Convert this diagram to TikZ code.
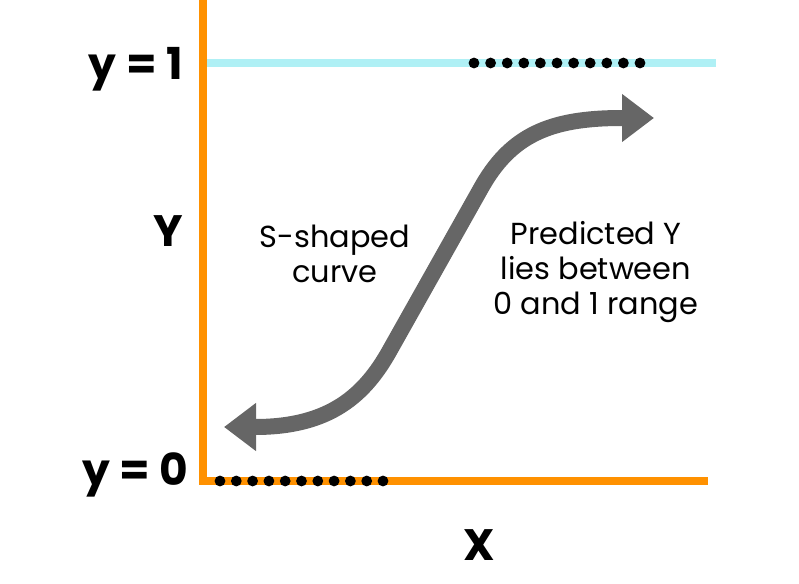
\documentclass[tikz,border=0pt]{standalone}
\usepackage{fontspec}
\setmainfont{Poppins}
\usetikzlibrary{arrows.meta}
\definecolor{axisorange}{RGB}{255,145,0}
\definecolor{levelcyan}{RGB}{175,240,245}
\definecolor{curvegray}{RGB}{102,102,102}

\begin{document}
\begin{tikzpicture}[x=0.5pt,y=-0.5pt,
  axisline/.style={draw=axisorange,line width=4pt},
  levelline/.style={draw=levelcyan,line width=4pt},
  dotmark/.style={fill=black},
  sline/.style={draw=curvegray,line width=8pt,
    {Triangle[length=16pt,width=23pt]}-{Triangle[length=16pt,width=23pt]}},
  axislabel/.style={font=\fontsize{22}{26}\selectfont\bfseries,inner sep=0pt},
  notelabel/.style={font=\fontsize{15.2}{17.5}\selectfont,align=center,inner sep=0pt}]
\useasboundingbox (0,0) rectangle (799,584);

% axes and the level y = 1
\coordinate (ytop) at (203,0);
\coordinate (origin) at (203,481);
\coordinate (xend) at (708,481);
\coordinate (oneleft) at (207,63);
\coordinate (oneright) at (716,63);
\draw[levelline] (oneleft) -- (oneright);
\draw[axisline] (ytop) -- (origin) -- (xend);

% dotted runs on the two levels
\foreach \i in {0,...,10}{
  \fill[dotmark] (474+16.6*\i,63) circle[radius=2.7pt];
  \fill[dotmark] (220+16.3*\i,481) circle[radius=2.7pt];
}

% the S-shaped curve
\coordinate (lowtip) at (224,427);
\coordinate (hightip) at (654,118);
\draw[sline] (lowtip) -- (255,427) .. controls (330,427) and (365,395) .. (390,350)
  -- (480,190) .. controls (510,135) and (550,118) .. (622,118) -- (hightip);

% labels
\node[axislabel,anchor=base east] (yone) at (183,79) {y = 1};
\node[axislabel,anchor=base east] (yzero) at (189,485) {y = 0};
\node[axislabel,anchor=base] (ylab) at (168,246) {Y};
\node[axislabel,anchor=base] (xlab) at (479,560) {X};
\node[notelabel] (snote) at (335,254) {S-shaped\\curve};
\node[notelabel] (pnote) at (596,272) {Predicted Y\\lies between\\0 and 1 range};
\end{tikzpicture}
\end{document}
